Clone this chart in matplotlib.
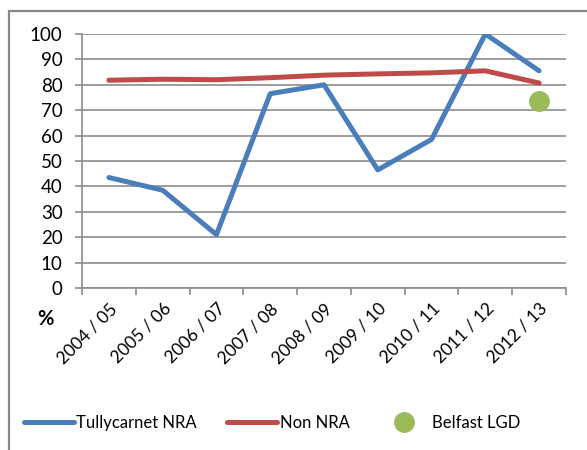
import matplotlib.pyplot as plt
from matplotlib.patches import Rectangle

plt.rcParams['font.family'] = ['Lato', 'DejaVu Sans']

years = ["2004 / 05", "2005 / 06", "2006 / 07", "2007 / 08", "2008 / 09",
         "2009 / 10", "2010 / 11", "2011 / 12", "2012 / 13"]
tullycarnet = [43.5, 38.5, 21, 76.5, 80, 46.5, 58.5, 100, 85.5]
non_nra = [81.8, 82.2, 82.0, 82.8, 83.8, 84.3, 84.7, 85.5, 80.7]
belfast_idx = [8]
belfast = [73.5]

fig = plt.figure(figsize=(5.87, 4.5), dpi=100)
ax = fig.add_axes([82 / 587, 1 - 288 / 450, (566 - 82) / 587, (288 - 34) / 450])

# outer frame (cut off by the image edges)
fig.patches.append(Rectangle((8.5 / 587, -0.1), 1.1, 1 - 11.5 / 450 + 0.1,
                             transform=fig.transFigure, fill=False,
                             edgecolor='#878787', linewidth=1.6))

x = list(range(len(years)))
ax.plot(x, tullycarnet, color='#4A7EBB', linewidth=3.6, solid_capstyle='round',
        label='Tullycarnet NRA', zorder=3)
ax.plot(x, non_nra, color='#BE4B48', linewidth=3.6, solid_capstyle='round',
        label='Non NRA', zorder=3)
ax.plot(belfast_idx, belfast, 'o', color='#9BBB59', markersize=14,
        label='Belfast LGD', linestyle='none', zorder=4)

ax.set_xlim(-0.5, len(years) - 0.5)
ax.set_ylim(0, 100)
ax.set_yticks(range(0, 101, 10))
ax.yaxis.grid(True, color='#8c8c8c', linewidth=1.2)
ax.set_axisbelow(True)

ax.set_xticks([i - 0.5 for i in range(len(years) + 1)], minor=False)
ax.set_xticklabels([])
ax.set_xticks(x, minor=True)
ax.set_xticklabels(years, minor=True, rotation=45, ha='right',
                   rotation_mode='anchor', fontsize=12.5)
ax.tick_params(axis='x', which='minor', length=0, pad=9)
ax.tick_params(axis='x', which='major', length=5, color='#8c8c8c', width=1.2)
ax.tick_params(axis='y', length=5, color='#8c8c8c', width=1.2, labelsize=13.5,
               pad=9)

for side in ['top', 'right']:
    ax.spines[side].set_visible(False)
for side in ['left', 'bottom']:
    ax.spines[side].set_color('#8c8c8c')
    ax.spines[side].set_linewidth(1.2)

fig.text(45 / 587, 1 - 319 / 450, '%', fontsize=14.5, fontweight='bold',
         ha='center', va='center')

fig.legend(loc='center', bbox_to_anchor=(272 / 587, 1 - 423 / 450), ncol=3,
           frameon=False, fontsize=12, handlelength=3.0, handletextpad=0.15,
           columnspacing=1.8)

fig.savefig('out.png', dpi=100)
